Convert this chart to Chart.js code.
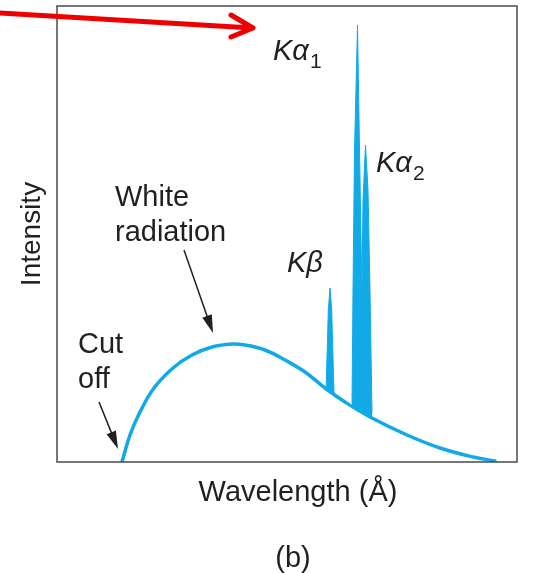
<!DOCTYPE html>
<html lang="en">
<head>
    <meta charset="UTF-8">
    <title>X-ray Spectrum</title>
    <script src="https://cdn.jsdelivr.net/npm/chart.js"></script>
    <style>
        html, body { margin: 0; padding: 0; background: #fff; }
    </style>
</head>
<body>
    <canvas id="spectrumChart" width="535" height="573"></canvas>

    <script>
        // White radiation (continuum)
        const whiteWavelength = [65, 73, 83, 97, 116, 135, 155, 175, 188, 208, 228, 248, 268, 288, 313, 350, 383, 416, 438];
        const whiteIntensity  = [0, 27, 50, 74, 94, 107, 115, 118, 117, 112, 102, 90, 74, 60, 45, 27, 14, 5, 1];

        // K beta peak
        const kBetaWavelength = [269, 270.5, 271.3, 273, 274.7, 275.5, 277];
        const kBetaIntensity  = [71, 122, 152, 174, 152, 122, 69];

        // K alpha1 / K alpha2 doublet (outer envelope)
        const kAlphaWavelength = [295, 296, 297.5, 300.5, 302.5, 305, 306, 308.5, 311, 313, 315];
        const kAlphaIntensity  = [59, 172, 312, 437, 312, 167, 262, 317, 272, 172, 49];

        const axisTitles = ['Wavelength (Å)', 'Intensity'];
        const panelLabel = '(b)';

        const blue = '#11aae6';
        const ink = '#231f20';
        const FONT = '"Liberation Sans", Arial, Helvetica, sans-serif';

        function toPoints(xs, ys) {
            return xs.map((v, i) => ({ x: v, y: ys[i] }));
        }

        function arrow(ctx, x1, y1, x2, y2, len, half) {
            const ang = Math.atan2(y2 - y1, x2 - x1);
            ctx.beginPath();
            ctx.moveTo(x1, y1);
            ctx.lineTo(x2 - Math.cos(ang) * len * 0.8, y2 - Math.sin(ang) * len * 0.8);
            ctx.stroke();
            ctx.beginPath();
            ctx.moveTo(x2, y2);
            ctx.lineTo(x2 - Math.cos(ang) * len - Math.sin(ang) * half, y2 - Math.sin(ang) * len + Math.cos(ang) * half);
            ctx.lineTo(x2 - Math.cos(ang) * len + Math.sin(ang) * half, y2 - Math.sin(ang) * len - Math.cos(ang) * half);
            ctx.closePath();
            ctx.fill();
        }

        // K + greek letter (italic) with a subscript digit
        function peakLabel(ctx, x0, base, greek, sub) {
            ctx.font = 'italic 29px ' + FONT;
            ctx.fillText('K' + greek, x0, base);
            if (sub) {
                const w = ctx.measureText('K' + greek).width;
                ctx.font = '21px ' + FONT;
                ctx.fillText(sub, x0 + w + 1, base + 8);
            }
        }

        const annotations = {
            id: 'annotations',
            afterDraw(chart) {
                const { ctx, chartArea: a, scales: { x, y } } = chart;
                const px = v => x.getPixelForValue(v);
                const py = v => y.getPixelForValue(v);
                ctx.save();

                // frame
                ctx.strokeStyle = '#4a4a4a';
                ctx.lineWidth = 1.5;
                ctx.strokeRect(a.left, a.top, a.right - a.left, a.bottom - a.top);

                // red pointer
                ctx.strokeStyle = '#ee0000';
                ctx.lineWidth = 5;
                ctx.lineCap = 'round';
                ctx.lineJoin = 'round';
                ctx.beginPath();
                ctx.moveTo(px(-59), py(449));
                ctx.lineTo(px(195), py(434));
                ctx.stroke();
                ctx.beginPath();
                ctx.moveTo(px(174), py(447));
                ctx.lineTo(px(196), py(434));
                ctx.lineTo(px(174), py(425));
                ctx.stroke();

                // black arrows
                ctx.strokeStyle = ink;
                ctx.fillStyle = ink;
                ctx.lineWidth = 1.5;
                ctx.lineCap = 'butt';
                arrow(ctx, px(127), py(212), px(156), py(129), 18, 5);
                arrow(ctx, px(42), py(60), px(61), py(13), 18, 5);

                // text
                ctx.textBaseline = 'alphabetic';
                ctx.textAlign = 'left';
                ctx.font = '29px ' + FONT;
                ctx.fillText('White', px(58), py(256));
                ctx.fillText('radiation', px(58), py(221));
                ctx.fillText('Cut', px(21), py(109));
                ctx.fillText('off', px(21), py(74));

                peakLabel(ctx, px(216), py(402), 'α', '1');
                peakLabel(ctx, px(319), py(290), 'α', '2');
                peakLabel(ctx, px(230), py(190), 'β', '');

                ctx.font = '29px ' + FONT;
                ctx.textAlign = 'center';
                ctx.fillText(axisTitles[0], px(241), py(-39));
                ctx.fillText(panelLabel, px(236), py(-105));
                ctx.restore();
            }
        };

        const ctx = document.getElementById('spectrumChart').getContext('2d');
        new Chart(ctx, {
            type: 'line',
            data: {
                datasets: [
                    {
                        label: 'White radiation',
                        data: toPoints(whiteWavelength, whiteIntensity),
                        borderColor: blue,
                        borderWidth: 3.5,
                        borderCapStyle: 'round',
                        tension: 0.4,
                        pointRadius: 0,
                        fill: false
                    },
                    {
                        label: 'Kβ',
                        data: toPoints(kBetaWavelength, kBetaIntensity),
                        borderColor: blue,
                        backgroundColor: blue,
                        borderWidth: 1,
                        tension: 0,
                        pointRadius: 0,
                        fill: { target: 0 }
                    },
                    {
                        label: 'Kα',
                        data: toPoints(kAlphaWavelength, kAlphaIntensity),
                        borderColor: blue,
                        backgroundColor: blue,
                        borderWidth: 1,
                        tension: 0,
                        pointRadius: 0,
                        fill: { target: 0 }
                    }
                ]
            },
            options: {
                responsive: false,
                animation: false,
                devicePixelRatio: 1,
                layout: { padding: { left: 15, right: 18, top: 6, bottom: 111 } },
                plugins: {
                    legend: { display: false },
                    tooltip: { enabled: false }
                },
                scales: {
                    x: {
                        type: 'linear',
                        min: 0,
                        max: 460,
                        display: false
                    },
                    y: {
                        min: 0,
                        max: 456,
                        grid: { display: false, drawTicks: false },
                        border: { display: false },
                        ticks: { display: false },
                        title: {
                            display: true,
                            text: axisTitles[1],
                            color: ink,
                            font: { family: FONT, size: 28 },
                            padding: { top: 0, bottom: 8.4 }
                        }
                    }
                }
            },
            plugins: [annotations]
        });
    </script>
</body>
</html>
